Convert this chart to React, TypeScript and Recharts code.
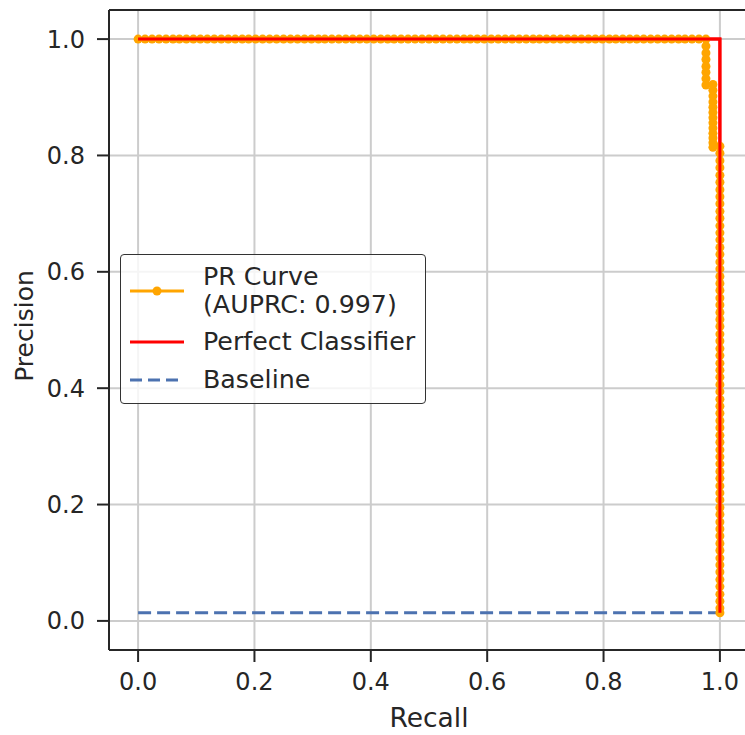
import React from "react";
import {
  LineChart,
  Line,
  XAxis,
  YAxis,
  CartesianGrid,
  ReferenceLine,
  Label,
} from "recharts";

// PR curve points (recall, precision)
const prRecall = [
  0.0, 0.012, 0.024, 0.036, 0.048, 0.06, 0.071, 0.083, 0.095, 0.107, 0.119,
  0.131, 0.143, 0.155, 0.167, 0.179, 0.19, 0.202, 0.214, 0.226, 0.238, 0.25,
  0.262, 0.274, 0.286, 0.298, 0.31, 0.321, 0.333, 0.345, 0.357, 0.369, 0.381,
  0.393, 0.405, 0.417, 0.429, 0.44, 0.452, 0.464, 0.476, 0.488, 0.5, 0.512,
  0.524, 0.536, 0.548, 0.56, 0.571, 0.583, 0.595, 0.607, 0.619, 0.631, 0.643,
  0.655, 0.667, 0.679, 0.69, 0.702, 0.714, 0.726, 0.738, 0.75, 0.762, 0.774,
  0.786, 0.798, 0.81, 0.821, 0.833, 0.845, 0.857, 0.869, 0.881, 0.893, 0.905,
  0.917, 0.929, 0.94, 0.952, 0.964, 0.976,
  // first drop
  0.976, 0.976, 0.976, 0.976, 0.976, 0.976, 0.976,
  // second drop
  0.988, 0.988, 0.988, 0.988, 0.988, 0.988, 0.988, 0.988, 0.988, 0.988,
  0.988, 0.988, 0.988,
  // final drop at full recall
  1.0, 1.0, 1.0, 1.0, 1.0, 1.0, 1.0, 1.0, 1.0, 1.0, 1.0, 1.0, 1.0, 1.0, 1.0,
  1.0, 1.0, 1.0, 1.0, 1.0, 1.0, 1.0, 1.0, 1.0, 1.0, 1.0, 1.0, 1.0, 1.0, 1.0,
  1.0, 1.0, 1.0, 1.0, 1.0, 1.0, 1.0, 1.0, 1.0, 1.0, 1.0, 1.0, 1.0, 1.0, 1.0,
  1.0, 1.0, 1.0, 1.0, 1.0, 1.0, 1.0, 1.0, 1.0, 1.0, 1.0, 1.0, 1.0, 1.0, 1.0,
  1.0, 1.0, 1.0, 1.0, 1.0, 1.0,
];

const prPrecision = [
  1, 1, 1, 1, 1, 1, 1, 1, 1, 1, 1, 1, 1, 1, 1, 1, 1, 1, 1, 1, 1, 1, 1, 1, 1, 1,
  1, 1, 1, 1, 1, 1, 1, 1, 1, 1, 1, 1, 1, 1, 1, 1, 1, 1, 1, 1, 1, 1, 1, 1, 1, 1,
  1, 1, 1, 1, 1, 1, 1, 1, 1, 1, 1, 1, 1, 1, 1, 1, 1, 1, 1, 1, 1, 1, 1, 1, 1, 1,
  1, 1, 1, 1, 1,
  0.988, 0.976, 0.965, 0.953, 0.943, 0.932, 0.921,
  0.922, 0.912, 0.902, 0.892, 0.883, 0.874, 0.865, 0.856, 0.847, 0.838, 0.83,
  0.822, 0.814,
  0.816, 0.804, 0.791, 0.779, 0.766, 0.754, 0.741, 0.729, 0.717, 0.704, 0.692,
  0.679, 0.667, 0.655, 0.642, 0.63, 0.617, 0.605, 0.592, 0.58, 0.568, 0.555,
  0.543, 0.53, 0.518, 0.506, 0.493, 0.481, 0.468, 0.456, 0.443, 0.431, 0.419,
  0.406, 0.394, 0.381, 0.369, 0.357, 0.344, 0.332, 0.319, 0.307, 0.294, 0.282,
  0.27, 0.257, 0.245, 0.232, 0.22, 0.208, 0.195, 0.183, 0.17, 0.158, 0.146,
  0.133, 0.121, 0.108, 0.096, 0.084, 0.071, 0.059, 0.046, 0.034, 0.022, 0.014,
];

const perfectRecall = [0.0, 1.0, 1.0];
const perfectPrecision = [1.0, 1.0, 0.014];

const baselineRecall = [0.0, 1.0];
const baselinePrecision = [0.014, 0.014];

const ticks = [0, 0.2, 0.4, 0.6, 0.8, 1.0];
const auprc = "0.997";

const zip = (xs: number[], ys: number[]) =>
  xs.map((x, i) => ({ x, y: ys[i] }));

const prData = zip(prRecall, prPrecision);
const perfectData = zip(perfectRecall, perfectPrecision);
const baselineData = zip(baselineRecall, baselinePrecision);

const INK = "#262626";
const FONT = "'DejaVu Sans', sans-serif";

// red line is drawn from the dot layer so it sits above the orange markers
const perfectDot = (props: any) => {
  const { index, points } = props;
  if (index !== 0 || !points) return <g key={`pd-${index}`} />;
  const pts = points.map((p: any) => `${p.x},${p.y}`).join(" ");
  return (
    <polyline
      key="pd-line"
      points={pts}
      fill="none"
      stroke="#ff0000"
      strokeWidth={3}
    />
  );
};

const LegendBox = () => (
  <div
    style={{
      position: "absolute",
      left: 120,
      top: 254,
      width: 306,
      height: 150,
      boxSizing: "border-box",
      border: "1.5px solid #333333",
      borderRadius: 4,
      background: "rgba(255,255,255,0.8)",
      fontFamily: FONT,
      fontSize: 25.3,
      color: INK,
      paddingTop: 8,
      paddingLeft: 8,
    }}
  >
    <div style={{ display: "flex", alignItems: "center", height: 56 }}>
      <svg width={56} height={12} style={{ marginRight: 18 }}>
        <line x1={1} y1={6} x2={55} y2={6} stroke="orange" strokeWidth={3} />
        <circle cx={28} cy={6} r={4.5} fill="orange" />
      </svg>
      <div style={{ lineHeight: "28px" }}>
        PR Curve
        <br />
        (AUPRC: {auprc})
      </div>
    </div>
    <div
      style={{ display: "flex", alignItems: "center", height: 28, marginTop: 9 }}
    >
      <svg width={56} height={12} style={{ marginRight: 18 }}>
        <line x1={1} y1={6} x2={55} y2={6} stroke="#ff0000" strokeWidth={3} />
      </svg>
      <div style={{ lineHeight: "28px" }}>Perfect Classifier</div>
    </div>
    <div
      style={{ display: "flex", alignItems: "center", height: 28, marginTop: 10 }}
    >
      <svg width={56} height={12} style={{ marginRight: 18 }}>
        <line
          x1={1}
          y1={6}
          x2={55}
          y2={6}
          stroke="#4c72b0"
          strokeWidth={3}
          strokeDasharray="12 6"
        />
      </svg>
      <div style={{ lineHeight: "28px" }}>Baseline</div>
    </div>
  </div>
);

export default function App() {
  return (
    <div
      style={{
        position: "absolute",
        left: 0,
        top: 0,
        width: 745,
        height: 735,
        overflow: "hidden",
        background: "#ffffff",
      }}
    >
      <LineChart
        width={760}
        height={735}
        margin={{ top: 10, right: 11, bottom: 0, left: 0 }}
        style={{ fontFamily: FONT }}
      >
        <CartesianGrid stroke="#cccccc" strokeWidth={2} />
        <XAxis
          dataKey="x"
          type="number"
          domain={[-0.05, 1.05]}
          ticks={ticks}
          allowDataOverflow
          height={85}
          tickSize={12}
          tickMargin={11}
          tickFormatter={(v: number) => v.toFixed(1)}
          tick={{ fontSize: 24, fill: INK, fontFamily: FONT }}
          axisLine={{ stroke: INK, strokeWidth: 2 }}
          tickLine={{ stroke: INK, strokeWidth: 2 }}
        >
          <Label
            value="Recall"
            position="insideBottom"
            offset={8}
            style={{ fontSize: 26.5, fill: INK, fontFamily: FONT }}
          />
        </XAxis>
        <YAxis
          type="number"
          domain={[-0.05, 1.05]}
          ticks={ticks}
          allowDataOverflow
          width={109}
          tickSize={12}
          tickMargin={12}
          tickFormatter={(v: number) => v.toFixed(1)}
          tick={{ fontSize: 24, fill: INK, fontFamily: FONT }}
          axisLine={{ stroke: INK, strokeWidth: 2 }}
          tickLine={{ stroke: INK, strokeWidth: 2 }}
        >
          <Label
            content={({ viewBox }: any) => {
              const cx = 33;
              const cy = viewBox.y + viewBox.height / 2 - 4;
              return (
                <text
                  x={cx}
                  y={cy}
                  transform={`rotate(-90 ${cx} ${cy})`}
                  textAnchor="middle"
                  fontSize={25}
                  fill={INK}
                  fontFamily={FONT}
                >
                  Precision
                </text>
              );
            }}
          />
        </YAxis>
        <ReferenceLine y={1.05} stroke={INK} strokeWidth={2} ifOverflow="visible" />
        <ReferenceLine x={1.05} stroke={INK} strokeWidth={2} ifOverflow="visible" />
        <Line
          data={baselineData}
          dataKey="y"
          type="linear"
          stroke="#4c72b0"
          strokeWidth={3}
          strokeDasharray="13 6"
          dot={false}
          isAnimationActive={false}
        />
        <Line
          data={prData}
          dataKey="y"
          type="linear"
          stroke="orange"
          strokeWidth={3}
          dot={{ r: 4.5, fill: "orange", stroke: "none" }}
          activeDot={false}
          isAnimationActive={false}
        />
        <Line
          data={perfectData}
          dataKey="y"
          type="linear"
          stroke="#ff0000"
          strokeWidth={3}
          dot={perfectDot}
          activeDot={false}
          isAnimationActive={false}
        />
      </LineChart>
      <LegendBox />
    </div>
  );
}
